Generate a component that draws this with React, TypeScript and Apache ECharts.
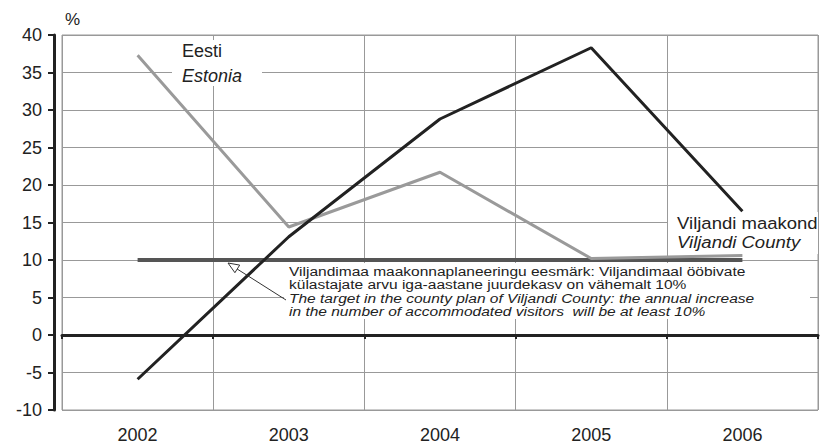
import React, { useEffect, useRef } from "react";
import * as echarts from "echarts";

const years = ["2002", "2003", "2004", "2005", "2006"];
const viljandi = [-5.9, 13.1, 28.8, 38.3, 16.5];
const estonia = [37.3, 14.4, 21.7, 10.2, 10.6];
const target = [10, 10, 10, 10, 10];
const yMin = -10;
const yMax = 40;
const yStep = 5;

const noteEt = [
  "Viljandimaa maakonnaplaneeringu eesmärk: Viljandimaal ööbivate",
  "külastajate arvu iga-aastane juurdekasv on vähemalt 10%",
];
const noteEn = [
  "The target in the county plan of Viljandi County: the annual increase",
  "in the number of accommodated visitors  will be at least 10%",
];

const FONT = "'Liberation Sans', Arial, sans-serif";
const TXT = "#222";

export default function App() {
  const ref = useRef<HTMLDivElement>(null);
  useEffect(() => {
    if (!ref.current) return;
    const chart = echarts.init(ref.current, null, { renderer: "svg" });
    const lab = (
      x: number,
      y: number,
      text: string,
      size: number,
      italic = false,
      sx = 1,
      z = 5
    ) => ({
      type: "text",
      x,
      y,
      z,
      scaleX: sx,
      style: {
        text,
        fill: TXT,
        font: `${italic ? "italic " : ""}${size}px ${FONT}`,
        align: "left",
        verticalAlign: "middle",
      },
    });
    const noteText = [
      ...noteEt.map((l) => `{n|${l}}`),
      ...noteEn.map((l) => `{i|${l}}`),
    ].join("\n");
    chart.setOption({
      animation: false,
      backgroundColor: "#fff",
      grid: {
        left: 62,
        right: 3,
        top: 35,
        bottom: 37,
        show: true,
        borderColor: "#999",
        borderWidth: 1,
      },
      xAxis: [
        {
          type: "category",
          data: years,
          position: "bottom",
          boundaryGap: true,
          axisLine: { show: false, onZero: false },
          axisTick: { show: false },
          axisLabel: { fontSize: 18, color: TXT, margin: 16, fontFamily: FONT },
          splitLine: { show: true, interval: 0, lineStyle: { color: "#999", width: 1 } },
        },
        {
          type: "category",
          data: years,
          position: "bottom",
          boundaryGap: true,
          axisLine: { show: true, onZero: true, onZeroAxisIndex: 0, lineStyle: { color: "#222", width: 3 } },
          axisTick: { show: true, length: 4, interval: 0, lineStyle: { color: "#222", width: 2 } },
          axisLabel: { show: false },
          splitLine: { show: false },
        },
      ],
      yAxis: {
        type: "value",
        min: yMin,
        max: yMax,
        interval: yStep,
        offset: 8,
        axisLine: { show: true, onZero: false, lineStyle: { color: "#222", width: 3 } },
        axisTick: { show: true, length: 6, lineStyle: { color: "#222", width: 2 } },
        axisLabel: { fontSize: 18, color: TXT, margin: 12, fontFamily: FONT },
        splitLine: { show: true, lineStyle: { color: "#999", width: 1 } },
      },
      series: [
        {
          name: "Viljandimaa eesmärk",
          type: "line",
          data: target,
          symbol: "none",
          z: 2,
          lineStyle: { color: "#555", width: 4 },
        },
        {
          name: "Eesti",
          type: "line",
          data: estonia,
          symbol: "none",
          z: 3,
          lineStyle: { color: "#9a9a9a", width: 3 },
        },
        {
          name: "Viljandi maakond",
          type: "line",
          data: viljandi,
          symbol: "none",
          z: 4,
          lineStyle: { color: "#222", width: 3 },
        },
      ],
      graphic: [
        lab(65, 19, "%", 17),
        { type: "rect", z: 1, shape: { x: 172, y: 40, width: 90, height: 46 }, style: { fill: "#fff" } },
        lab(182, 51, "Eesti", 18),
        lab(182, 76, "Estonia", 18, true),
        { type: "rect", z: 1, shape: { x: 668, y: 212, width: 150, height: 42 }, style: { fill: "#fff" } },
        lab(677, 223.5, "Viljandi maakond", 17, false, 1.09),
        lab(677, 242.5, "Viljandi County", 17, true, 1.09),
        { type: "rect", z: 1, shape: { x: 284, y: 263, width: 526, height: 56 }, style: { fill: "#fff" } },
        {
          type: "text",
          x: 289,
          y: 264.5,
          z: 5,
          scaleX: 1.15,
          style: {
            text: noteText,
            align: "left",
            verticalAlign: "top",
            fill: TXT,
            rich: {
              n: { fontSize: 13.5, fontFamily: FONT, lineHeight: 13.4, fill: TXT },
              i: { fontSize: 13.5, fontFamily: FONT, fontStyle: "italic", lineHeight: 13.4, fill: TXT },
            },
          },
        },
        {
          type: "line",
          z: 6,
          shape: { x1: 286, y1: 300, x2: 234, y2: 267 },
          style: { stroke: "#333", lineWidth: 1 },
        },
        {
          type: "polygon",
          z: 7,
          shape: { points: [[228, 263], [234.9, 272.7], [239.7, 265.1]] },
          style: { fill: "#fff", stroke: "#333", lineWidth: 1 },
        },
      ],
    });
    return () => chart.dispose();
  }, []);
  return (
    <div
      ref={ref}
      style={{ position: "fixed", left: 0, top: 0, width: 821, height: 447, background: "#fff" }}
    />
  );
}
